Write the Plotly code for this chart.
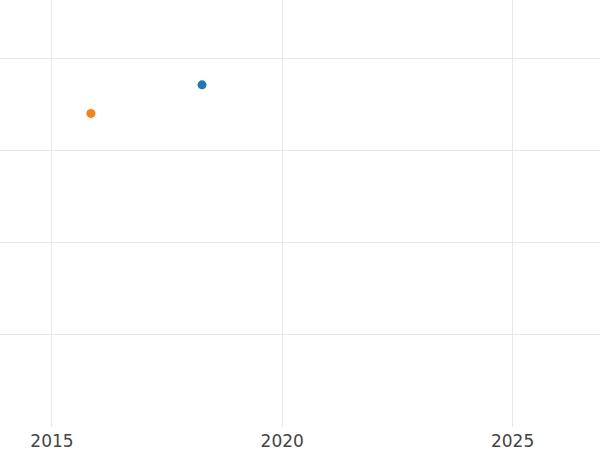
import plotly.graph_objects as go

# two single-point series
dates = ["2018-04-05", "2015-11-06"]
values = [3.71, 3.40]
colors = ["#1f77b4", "#ff7f0e"]
names = ["A", "B"]

fig = go.Figure()
for d, v, c, n in zip(dates, values, colors, names):
    fig.add_trace(go.Scatter(
        x=[d], y=[v], mode="markers", name=n,
        marker=dict(color=c, size=9),
    ))

fig.update_layout(
    width=600, height=450,
    margin=dict(l=0, r=0, t=0, b=23),
    paper_bgcolor="white", plot_bgcolor="white",
    showlegend=False,
    font=dict(family="DejaVu Sans", size=17, color="#444"),
    xaxis=dict(
        type="date",
        range=["2013-11-15", "2026-11-25"],
        dtick="M60", tick0="2015-01-01", tickformat="%Y",
        showgrid=True, gridcolor="#e8e8e8", gridwidth=1,
        zeroline=False, showline=False, ticks="",
        ticklabelstandoff=2,
    ),
    yaxis=dict(
        range=[0, 4.63], dtick=1,
        showgrid=True, gridcolor="#e8e8e8", gridwidth=1,
        zeroline=False, showline=False, showticklabels=False, ticks="",
    ),
)

fig.write_html("out.html", config={"displayModeBar": False},
               post_script="document.body.style.margin='0';")
